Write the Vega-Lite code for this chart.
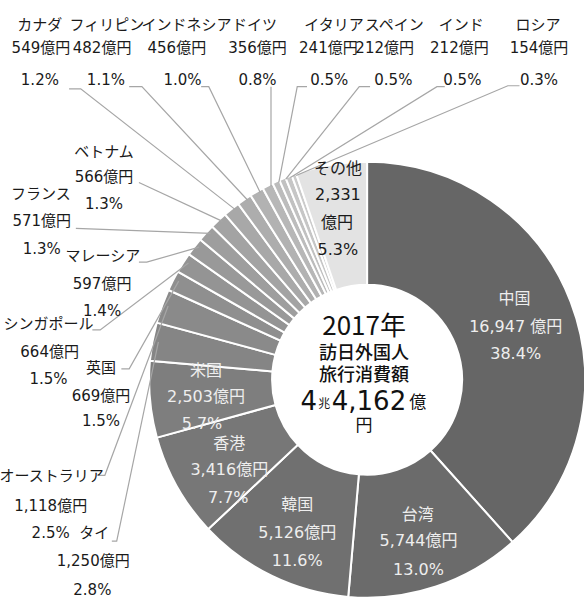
{
  "$schema": "https://vega.github.io/schema/vega-lite/v6.json",
  "width": 584,
  "height": 601,
  "padding": 0,
  "autosize": {"type": "fit", "contains": "padding"},
  "background": "white",
  "config": {"view": {"stroke": null}},
  "datasets": {
    "slices": [
      {"idx": 1, "name": "中国", "value": 16947},
      {"idx": 2, "name": "台湾", "value": 5744},
      {"idx": 3, "name": "韓国", "value": 5126},
      {"idx": 4, "name": "香港", "value": 3416},
      {"idx": 5, "name": "米国", "value": 2503},
      {"idx": 6, "name": "タイ", "value": 1250},
      {"idx": 7, "name": "オーストラリア", "value": 1118},
      {"idx": 8, "name": "英国", "value": 669},
      {"idx": 9, "name": "シンガポール", "value": 664},
      {"idx": 10, "name": "マレーシア", "value": 597},
      {"idx": 11, "name": "フランス", "value": 571},
      {"idx": 12, "name": "ベトナム", "value": 566},
      {"idx": 13, "name": "カナダ", "value": 549},
      {"idx": 14, "name": "フィリピン", "value": 482},
      {"idx": 15, "name": "インドネシア", "value": 456},
      {"idx": 16, "name": "ドイツ", "value": 356},
      {"idx": 17, "name": "イタリア", "value": 241},
      {"idx": 18, "name": "スペイン", "value": 212},
      {"idx": 19, "name": "インド", "value": 212},
      {"idx": 20, "name": "ロシア", "value": 154},
      {"idx": 21, "name": "その他", "value": 2331}
    ],
    "leaders": [
      {"name": "カナダ", "k": 1, "x": -140.8, "y": 133.9},
      {"name": "カナダ", "k": 2, "x": -135.3, "y": 133.9},
      {"name": "カナダ", "k": 3, "x": -62.4, "y": 78.4},
      {"name": "フィリピン", "k": 1, "x": -112.4, "y": 134.9},
      {"name": "フィリピン", "k": 2, "x": -106.4, "y": 134.9},
      {"name": "フィリピン", "k": 3, "x": -56.4, "y": 82.6},
      {"name": "インドネシア", "k": 1, "x": -78.4, "y": 134.9},
      {"name": "インドネシア", "k": 2, "x": -74.8, "y": 134.9},
      {"name": "インドネシア", "k": 3, "x": -50.5, "y": 86.2},
      {"name": "ドイツ", "k": 1, "x": -45.4, "y": 134.9},
      {"name": "ドイツ", "k": 2, "x": -45.4, "y": 89.0},
      {"name": "イタリア", "k": 1, "x": -28.4, "y": 134.9},
      {"name": "イタリア", "k": 2, "x": -33.0, "y": 134.9},
      {"name": "イタリア", "k": 3, "x": -41.7, "y": 90.8},
      {"name": "スペイン", "k": 1, "x": 1.4, "y": 134.9},
      {"name": "スペイン", "k": 2, "x": -3.7, "y": 134.9},
      {"name": "スペイン", "k": 3, "x": -38.5, "y": 92.2},
      {"name": "インド", "k": 1, "x": 36.7, "y": 134.9},
      {"name": "インド", "k": 2, "x": 33.0, "y": 134.9},
      {"name": "インド", "k": 3, "x": -36.2, "y": 93.1},
      {"name": "ロシア", "k": 1, "x": 72.0, "y": 135.3},
      {"name": "ロシア", "k": 2, "x": 66.5, "y": 135.3},
      {"name": "ロシア", "k": 3, "x": -33.5, "y": 94.0},
      {"name": "ベトナム", "k": 1, "x": -107.8, "y": 90.8},
      {"name": "ベトナム", "k": 2, "x": -68.3, "y": 72.9},
      {"name": "フランス", "k": 1, "x": -137.6, "y": 69.7},
      {"name": "フランス", "k": 2, "x": -73.9, "y": 67.4},
      {"name": "マレーシア", "k": 1, "x": -107.8, "y": 54.1},
      {"name": "マレーシア", "k": 2, "x": -104.1, "y": 54.1},
      {"name": "マレーシア", "k": 3, "x": -79.4, "y": 61.0},
      {"name": "シンガポール", "k": 1, "x": -129.8, "y": 22.9},
      {"name": "シンガポール", "k": 2, "x": -126.1, "y": 22.9},
      {"name": "シンガポール", "k": 3, "x": -84.4, "y": 53.7},
      {"name": "英国", "k": 1, "x": -116.1, "y": 5.0},
      {"name": "英国", "k": 2, "x": -112.4, "y": 5.0},
      {"name": "英国", "k": 3, "x": -89.0, "y": 45.4},
      {"name": "オーストラリア", "k": 1, "x": -127.5, "y": -44.0},
      {"name": "オーストラリア", "k": 2, "x": -123.9, "y": -44.0},
      {"name": "オーストラリア", "k": 3, "x": -94.0, "y": 33.9},
      {"name": "タイ", "k": 1, "x": -120.6, "y": -74.3},
      {"name": "タイ", "k": 2, "x": -118.3, "y": -74.3},
      {"name": "タイ", "k": 3, "x": -98.6, "y": 17.4}
    ],
    "labels": [
      {"kind": "out", "t": "カナダ", "x": -154.6, "y": 163.3},
      {"kind": "out", "t": "549億円", "x": -154.1, "y": 152.8},
      {"kind": "out", "t": "1.2%", "x": -154.6, "y": 138.1},
      {"kind": "out", "t": "フィリピン", "x": -122.9, "y": 163.3},
      {"kind": "out", "t": "482億円", "x": -125.2, "y": 152.8},
      {"kind": "out", "t": "1.1%", "x": -123.4, "y": 138.1},
      {"kind": "out", "t": "インドネシア", "x": -85.3, "y": 163.3},
      {"kind": "out", "t": "456億円", "x": -89.9, "y": 152.8},
      {"kind": "out", "t": "1.0%", "x": -87.2, "y": 138.1},
      {"kind": "out", "t": "ドイツ", "x": -53.2, "y": 163.3},
      {"kind": "out", "t": "356億円", "x": -51.8, "y": 152.8},
      {"kind": "out", "t": "0.8%", "x": -51.8, "y": 138.1},
      {"kind": "out", "t": "イタリア", "x": -15.6, "y": 163.3},
      {"kind": "out", "t": "241億円", "x": -18.3, "y": 152.8},
      {"kind": "out", "t": "0.5%", "x": -17.9, "y": 138.1},
      {"kind": "out", "t": "スペイン", "x": 12.8, "y": 163.3},
      {"kind": "out", "t": "212億円", "x": 8.3, "y": 152.8},
      {"kind": "out", "t": "0.5%", "x": 12.4, "y": 138.1},
      {"kind": "out", "t": "インド", "x": 44.5, "y": 163.3},
      {"kind": "out", "t": "212億円", "x": 43.6, "y": 152.8},
      {"kind": "out", "t": "0.5%", "x": 45.0, "y": 138.1},
      {"kind": "out", "t": "ロシア", "x": 80.7, "y": 163.3},
      {"kind": "out", "t": "154億円", "x": 81.2, "y": 152.8},
      {"kind": "out", "t": "0.3%", "x": 81.2, "y": 138.1},
      {"kind": "out", "t": "ベトナム", "x": -124.3, "y": 105.0},
      {"kind": "out", "t": "566億円", "x": -124.3, "y": 93.1},
      {"kind": "out", "t": "1.3%", "x": -124.3, "y": 80.7},
      {"kind": "out", "t": "フランス", "x": -154.1, "y": 85.3},
      {"kind": "out", "t": "571億円", "x": -153.7, "y": 72.9},
      {"kind": "out", "t": "1.3%", "x": -153.7, "y": 60.1},
      {"kind": "out", "t": "マレーシア", "x": -124.8, "y": 56.9},
      {"kind": "out", "t": "597億円", "x": -125.2, "y": 44.0},
      {"kind": "out", "t": "1.4%", "x": -125.2, "y": 31.7},
      {"kind": "out", "t": "シンガポール", "x": -150.5, "y": 25.7},
      {"kind": "out", "t": "664億円", "x": -150.0, "y": 12.8},
      {"kind": "out", "t": "1.5%", "x": -150.5, "y": 0.5},
      {"kind": "out", "t": "英国", "x": -125.7, "y": 5.5},
      {"kind": "out", "t": "669億円", "x": -125.7, "y": -7.3},
      {"kind": "out", "t": "1.5%", "x": -125.7, "y": -18.8},
      {"kind": "out", "t": "オーストラリア", "x": -149.1, "y": -44.5},
      {"kind": "out", "t": "1,118億円", "x": -149.5, "y": -58.3},
      {"kind": "out", "t": "2.5%", "x": -149.5, "y": -70.6},
      {"kind": "out", "t": "タイ", "x": -128.9, "y": -70.6},
      {"kind": "out", "t": "1,250億円", "x": -129.4, "y": -83.5},
      {"kind": "out", "t": "2.8%", "x": -129.8, "y": -96.8},
      {"kind": "in", "t": "中国", "x": 69.7, "y": 37.2},
      {"kind": "in", "t": "16,947 億円", "x": 70.2, "y": 24.3},
      {"kind": "in", "t": "38.4%", "x": 70.2, "y": 11.9},
      {"kind": "in", "t": "台湾", "x": 23.9, "y": -62.4},
      {"kind": "in", "t": "5,744億円", "x": 24.3, "y": -74.3},
      {"kind": "in", "t": "13.0%", "x": 24.3, "y": -87.6},
      {"kind": "in", "t": "韓国", "x": -33.0, "y": -57.8},
      {"kind": "in", "t": "5,126億円", "x": -33.0, "y": -70.6},
      {"kind": "in", "t": "11.6%", "x": -33.0, "y": -83.5},
      {"kind": "in", "t": "香港", "x": -65.1, "y": -29.4},
      {"kind": "in", "t": "3,416億円", "x": -65.1, "y": -41.7},
      {"kind": "in", "t": "7.7%", "x": -65.6, "y": -54.6},
      {"kind": "in", "t": "米国", "x": -76.1, "y": 4.1},
      {"kind": "in", "t": "2,503億円", "x": -76.1, "y": -7.8},
      {"kind": "in", "t": "5.7%", "x": -78.0, "y": -20.2},
      {"kind": "oth", "t": "その他", "x": -13.8, "y": 96.8},
      {"kind": "oth", "t": "2,331", "x": -13.8, "y": 84.9},
      {"kind": "oth", "t": "億円", "x": -14.2, "y": 72.0},
      {"kind": "oth", "t": "5.3%", "x": -13.8, "y": 59.6},
      {"kind": "c1", "t": "2017年", "x": -1.4, "y": 24.3},
      {"kind": "c2", "t": "訪日外国人", "x": -1.4, "y": 11.9},
      {"kind": "c2", "t": "旅行消費額", "x": -1.4, "y": 1.8},
      {"kind": "c3", "t": "4", "x": -27.5, "y": -10.1},
      {"kind": "c3", "t": "4,162", "x": 0.9, "y": -10.1},
      {"kind": "c4", "t": "兆", "x": -20.2, "y": -11.0},
      {"kind": "c5", "t": "億", "x": 23.9, "y": -10.6},
      {"kind": "c5", "t": "円", "x": -1.4, "y": -21.1}
    ]
  },
  "layer": [
    {
      "data": {"name": "slices"},
      "mark": {
        "type": "arc",
        "innerRadius": 95,
        "outerRadius": 218,
        "stroke": "white",
        "strokeWidth": 2,
        "x": {"expr": "scale('x', 0)"},
        "y": {"expr": "scale('y', 0)"}
      },
      "encoding": {
        "theta": {"field": "value", "type": "quantitative", "stack": true},
        "order": {"field": "idx", "type": "quantitative"},
        "color": {
          "field": "name",
          "type": "nominal",
          "legend": null,
          "scale": {
            "domain": ["中国", "台湾", "韓国", "香港", "米国", "タイ", "オーストラリア", "英国", "シンガポール", "マレーシア", "フランス", "ベトナム", "カナダ", "フィリピン", "インドネシア", "ドイツ", "イタリア", "スペイン", "インド", "ロシア", "その他"],
            "range": ["#666666", "#6b6b6b", "#707070", "#777777", "#7e7e7e", "#858585", "#8a8a8a", "#8f8f8f", "#949494", "#999999", "#9e9e9e", "#a3a3a3", "#a8a8a8", "#adadad", "#b2b2b2", "#b7b7b7", "#bcbcbc", "#c1c1c1", "#c6c6c6", "#cbcbcb", "#e3e3e3"]
          }
        }
      }
    },
    {
      "data": {"name": "leaders"},
      "mark": {"type": "line", "color": "#a6a6a6", "strokeWidth": 1.2},
      "encoding": {
        "x": {"field": "x", "type": "quantitative", "axis": null, "scale": {"domain": [-172.02, 95.87], "nice": false, "zero": false}},
        "y": {"field": "y", "type": "quantitative", "axis": null, "scale": {"domain": [-100.92, 174.77], "nice": false, "zero": false}},
        "detail": {"field": "name", "type": "nominal"},
        "order": {"field": "k", "type": "quantitative"}
      }
    },
    {
      "data": {"name": "labels"},
      "transform": [{"filter": "datum.kind === 'out'"}],
      "mark": {"type": "text", "align": "center", "baseline": "middle", "font": "DejaVu Sans, Noto Sans CJK JP", "fontSize": 15, "color": "#1a1a1a"},
      "encoding": {
        "x": {"field": "x", "type": "quantitative"},
        "y": {"field": "y", "type": "quantitative"},
        "text": {"field": "t"}
      }
    },
    {
      "data": {"name": "labels"},
      "transform": [{"filter": "datum.kind === 'in'"}],
      "mark": {"type": "text", "align": "center", "baseline": "middle", "font": "DejaVu Sans, Noto Sans CJK JP", "fontSize": 16, "color": "#eeeeee"},
      "encoding": {
        "x": {"field": "x", "type": "quantitative"},
        "y": {"field": "y", "type": "quantitative"},
        "text": {"field": "t"}
      }
    },
    {
      "data": {"name": "labels"},
      "transform": [{"filter": "datum.kind === 'oth'"}],
      "mark": {"type": "text", "align": "center", "baseline": "middle", "font": "DejaVu Sans, Noto Sans CJK JP", "fontSize": 16, "color": "#1a1a1a"},
      "encoding": {
        "x": {"field": "x", "type": "quantitative"},
        "y": {"field": "y", "type": "quantitative"},
        "text": {"field": "t"}
      }
    },
    {
      "data": {"name": "labels"},
      "transform": [{"filter": "datum.kind === 'c1'"}],
      "mark": {"type": "text", "align": "center", "baseline": "middle", "font": "Noto Sans CJK JP", "fontSize": 26, "color": "#111111"},
      "encoding": {
        "x": {"field": "x", "type": "quantitative"},
        "y": {"field": "y", "type": "quantitative"},
        "text": {"field": "t"}
      }
    },
    {
      "data": {"name": "labels"},
      "transform": [{"filter": "datum.kind === 'c2'"}],
      "mark": {"type": "text", "align": "center", "baseline": "middle", "font": "Noto Sans CJK JP", "fontSize": 18, "fontWeight": 500, "color": "#111111"},
      "encoding": {
        "x": {"field": "x", "type": "quantitative"},
        "y": {"field": "y", "type": "quantitative"},
        "text": {"field": "t"}
      }
    },
    {
      "data": {"name": "labels"},
      "transform": [{"filter": "datum.kind === 'c3'"}],
      "mark": {"type": "text", "align": "center", "baseline": "middle", "font": "DejaVu Sans, Noto Sans CJK JP", "fontSize": 26, "color": "#111111"},
      "encoding": {
        "x": {"field": "x", "type": "quantitative"},
        "y": {"field": "y", "type": "quantitative"},
        "text": {"field": "t"}
      }
    },
    {
      "data": {"name": "labels"},
      "transform": [{"filter": "datum.kind === 'c4'"}],
      "mark": {"type": "text", "align": "center", "baseline": "middle", "font": "Noto Sans CJK JP", "fontSize": 12, "color": "#111111"},
      "encoding": {
        "x": {"field": "x", "type": "quantitative"},
        "y": {"field": "y", "type": "quantitative"},
        "text": {"field": "t"}
      }
    },
    {
      "data": {"name": "labels"},
      "transform": [{"filter": "datum.kind === 'c5'"}],
      "mark": {"type": "text", "align": "center", "baseline": "middle", "font": "Noto Sans CJK JP", "fontSize": 17, "color": "#111111"},
      "encoding": {
        "x": {"field": "x", "type": "quantitative"},
        "y": {"field": "y", "type": "quantitative"},
        "text": {"field": "t"}
      }
    }
  ]
}
